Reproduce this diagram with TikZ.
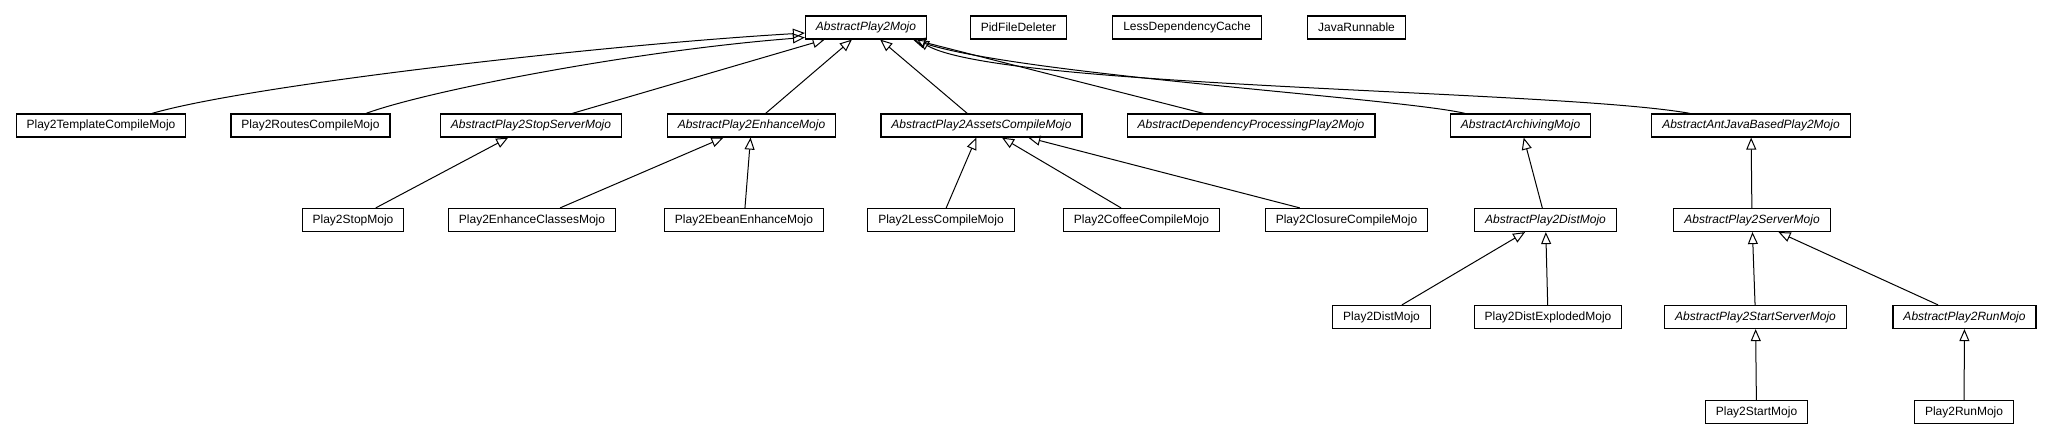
\documentclass[tikz,border=0pt]{standalone}
\usepackage{fontspec}
\setmainfont{Liberation Sans}
\usetikzlibrary{arrows.meta}
\tikzset{
cls/.style={draw, line width=1.2pt, fill=white, minimum height=23pt, inner xsep=10.5pt, inner ysep=0pt, font=\fontsize{12}{14}\selectfont},
acls/.style={cls, font=\fontsize{12}{14}\selectfont\itshape},
inh/.style={-{Triangle[open,length=12pt,width=10pt]}, line width=1pt}
}
\begin{document}
\begin{tikzpicture}[x=1pt,y=-1pt]
\useasboundingbox (0,0) rectangle (2053,443);
\foreach \n/\x/\y/\t in {pid/1018.5/27.5/PidFileDeleter, ldc/1187/27.5/LessDependencyCache, jr/1356.5/27.5/JavaRunnable,
  tc/101/125.5/Play2TemplateCompileMojo, rc/310.5/125.5/Play2RoutesCompileMojo,
  stop/353/220/Play2StopMojo, ecl/532/220/Play2EnhanceClassesMojo, ebe/744/220/Play2EbeanEnhanceMojo,
  less/941/220/Play2LessCompileMojo, cof/1141.5/220/Play2CoffeeCompileMojo, clo/1346.5/220/Play2ClosureCompileMojo,
  dm/1381.5/317/Play2DistMojo, dex/1548/317/Play2DistExplodedMojo, stm/1756.5/412/Play2StartMojo, rm/1964/412/Play2RunMojo}
\node[cls] (\n) at (\x,\y) {\t};
\foreach \n/\x/\y/\t in {apm/866/27.5/AbstractPlay2Mojo,
  sss/531/125.5/AbstractPlay2StopServerMojo, enh/751.5/125.5/AbstractPlay2EnhanceMojo,
  ass/981.5/125.5/AbstractPlay2AssetsCompileMojo, dep/1251/125.5/AbstractDependencyProcessingPlay2Mojo,
  arc/1520.5/125.5/AbstractArchivingMojo, ant/1751/125.5/AbstractAntJavaBasedPlay2Mojo,
  dist/1545.5/220/AbstractPlay2DistMojo, srv/1752/220/AbstractPlay2ServerMojo,
  sts/1755.5/317/AbstractPlay2StartServerMojo, run/1964.5/317/AbstractPlay2RunMojo}
\node[acls] (\n) at (\x,\y) {\t};

\foreach \c/\p in {sss/apm, enh/apm, ass/apm, dep/apm, stop/sss, ecl/enh, ebe/enh, less/ass, cof/ass, clo/ass,
  dist/arc, srv/ant, dm/dist, dex/dist, sts/srv, run/srv, stm/sts, rm/run}
\draw[inh] (\c) -- (\p);

\draw[inh] ([xshift=51pt]tc.north) .. controls (250,85) and (600,45) .. ([yshift=-5.5pt]apm.west);
\draw[inh] ([xshift=55.5pt]rc.north) .. controls (430,90) and (640,50) .. ([yshift=-10pt]apm.west);
\draw[inh] ([xshift=-55.5pt]arc.north) .. controls (1400,98) and (1020,75) .. ([xshift=47pt]apm.south);
\draw[inh] ([xshift=-61pt]ant.north) .. controls (1560,90) and (1000,88) .. ([xshift=51pt]apm.south);
\end{tikzpicture}
\end{document}
